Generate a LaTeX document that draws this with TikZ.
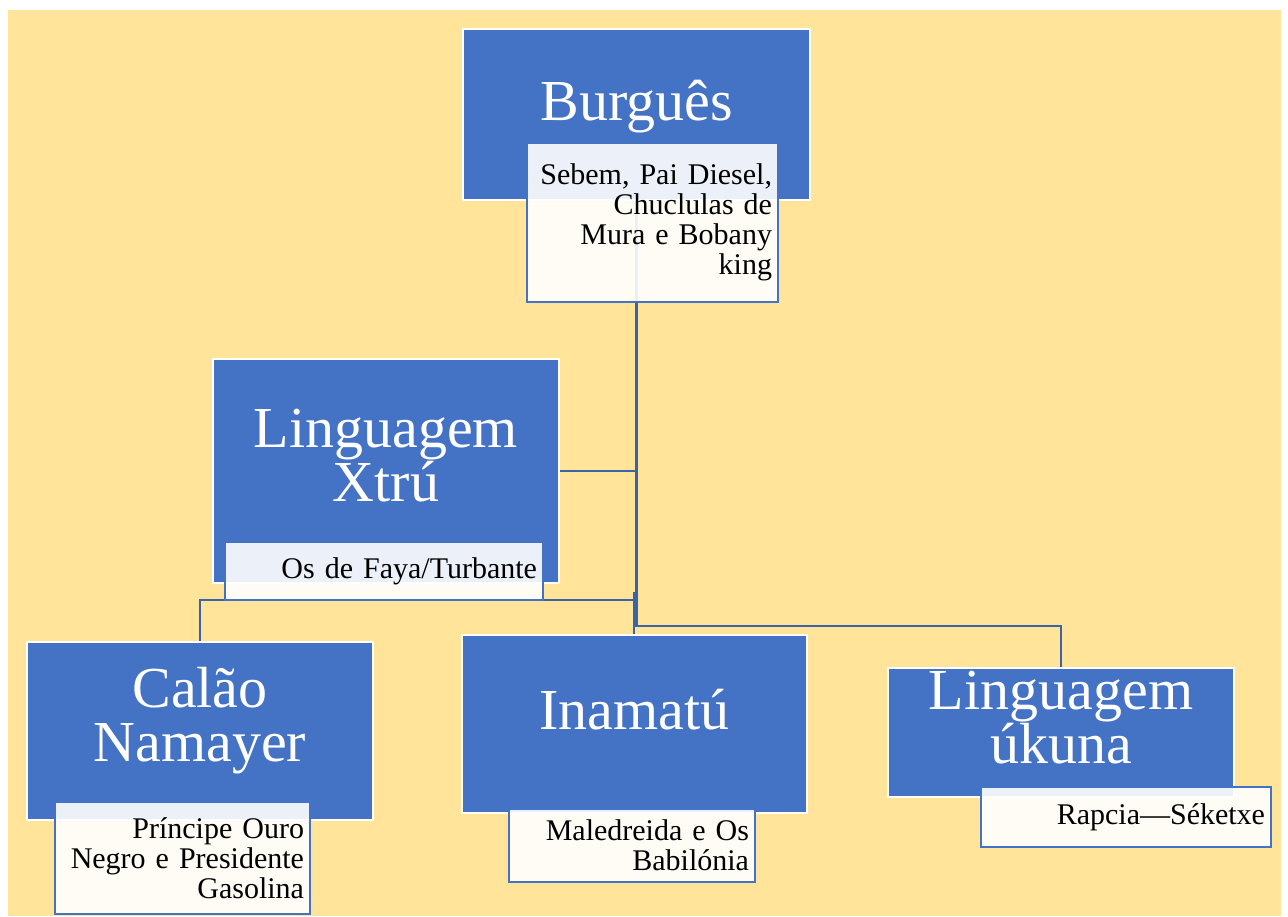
\documentclass[tikz,border=0pt]{standalone}
\usepackage{fontspec}
\setmainfont{Liberation Serif}
\definecolor{amarelo}{HTML}{FFE499}
\definecolor{azul}{HTML}{4472C4}
\definecolor{linha}{HTML}{3C62A8}
\pgfdeclarelayer{fundo}
\pgfdeclarelayer{linhas}
\pgfsetlayers{fundo,linhas,main}
\begin{document}
\begin{tikzpicture}[x=0.5pt,y=-0.5pt,
		caixa/.style={draw=white,line width=1pt,fill=azul,inner sep=0pt},
		titulo/.style={text=white,align=center,inner sep=0pt,font=\fontsize{29}{27}\selectfont},
		legenda/.style={draw=azul,line width=1pt,fill=white,fill opacity=0.9,text opacity=1,
			align=right,inner xsep=3pt,inner ysep=0pt,font=\fontsize{15}{15}\selectfont},
		ligacao/.style={draw=linha,line width=1.2pt}]
	\useasboundingbox (0,0) rectangle (1288,916);
	\begin{pgfonlayer}{fundo}
		\fill[amarelo] (8,10) rectangle (1281,916);
	\end{pgfonlayer}
	% caixas principais
	\node[caixa,minimum width=173.5pt,minimum height=85.5pt] (burg) at (636.5,114.5) {};
	\node[caixa,minimum width=173pt,minimum height=112pt] (xtru) at (386,471) {};
	\node[caixa,minimum width=173pt,minimum height=89pt] (calao) at (200,731) {};
	\node[caixa,minimum width=172.5pt,minimum height=89pt] (inam) at (634.5,724) {};
	\node[caixa,minimum width=173pt,minimum height=64.5pt] (ukuna) at (1061,732.5) {};
	% titulos
	\node[titulo] (burgT) at ([yshift=4pt]burg.center) {Burguês};
	\node[titulo] (xtruT) at ([yshift=7.5pt]xtru.center) {Linguagem\\Xtrú};
	\node[titulo] (calaoT) at ([yshift=5pt]calao.center) {Calão\\Namayer};
	\node[titulo] (inamT) at ([yshift=7pt]inam.center) {Inamatú};
	\node[titulo] (ukunaT) at ([yshift=7.5pt]ukuna.center) {Linguagem\\úkuna};
	% legendas
	\node[legenda,text width=119.5pt,minimum height=79.5pt] (burgL) at (652.5,222.5)
		{Sebem, Pai Diesel,\\Chuclulas de\\Mura e Bobany\\king};
	\node[legenda,text width=153pt,minimum height=29pt] (xtruL) at (384,571)
		{Os de Faya/Turbante};
	\node[legenda,text width=121.5pt,minimum height=56pt] (calaoL) at (182.5,858)
		{Príncipe Ouro\\Negro e Presidente\\Gasolina};
	\node[legenda,text width=117pt,minimum height=36.5pt] (inamL) at (632,845.5)
		{Maledreida e Os\\Babilónia};
	\node[legenda,text width=139pt,minimum height=30pt] (ukunaL) at (1126,817)
		{Rapcia—Séketxe};
	% ligacoes
	\coordinate (jR) at (636.5,626);
	\coordinate (jM) at (634,592);
	\coordinate (jL) at (634,600);
	\begin{pgfonlayer}{linhas}
		\draw[ligacao] (burg.south) -- (jR) -| (ukuna.north);
		\draw[ligacao] (xtru.east) -- (xtru.east -| burg.south);
		\draw[ligacao] (jM) -- (jM |- inam.north);
		\draw[ligacao] (jL) -| (calao.north);
	\end{pgfonlayer}
\end{tikzpicture}
\end{document}
